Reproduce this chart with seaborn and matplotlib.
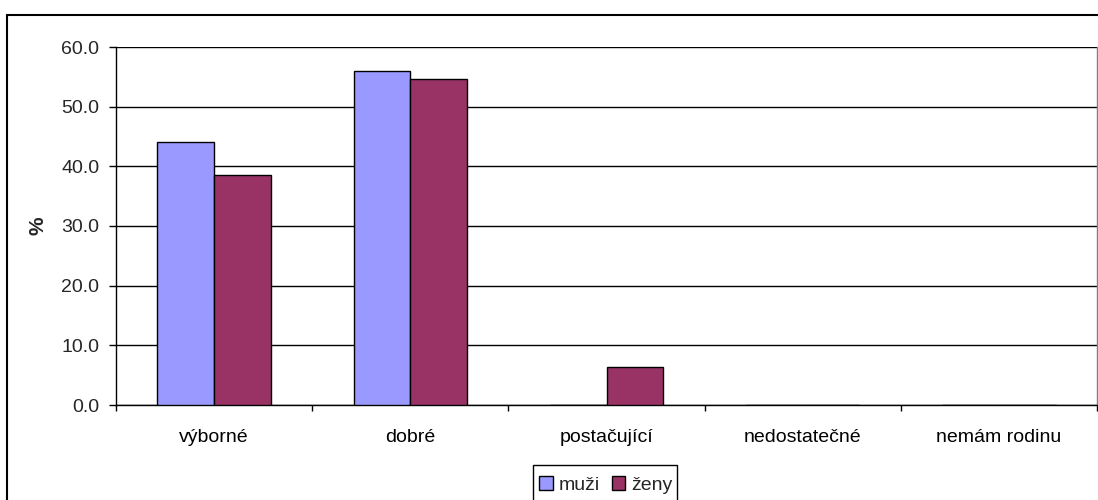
import matplotlib
matplotlib.use("Agg")
import matplotlib.pyplot as plt
from matplotlib.patches import Rectangle
from matplotlib.ticker import FixedLocator, FormatStrFormatter
import pandas as pd
import seaborn as sns

categories = ["výborné", "dobré", "postačující", "nedostatečné", "nemám rodinu"]
muzi = [44.0, 55.9, 0.0, 0.0, 0.0]
zeny = [38.6, 54.7, 6.4, 0.0, 0.0]
series_names = ["muži", "ženy"]
colors = ["#9999FF", "#993366"]

df = pd.DataFrame({
    "kategorie": categories * 2,
    "pohlaví": [series_names[0]] * len(categories) + [series_names[1]] * len(categories),
    "hodnota": muzi + zeny,
})

sns.set_style("white")
plt.rcParams["font.family"] = ["Liberation Sans", "DejaVu Sans"]

W, H = 1098, 500
FS = 14
fig = plt.figure(figsize=(W / 100, H / 100), dpi=100)
ax = fig.add_axes([116 / W, 1 - 405 / H, (1097 - 116) / W, (405 - 47) / H])

sns.barplot(data=df, x="kategorie", y="hodnota", hue="pohlaví",
            palette=colors, width=0.578, edgecolor="black", linewidth=1.0,
            saturation=1, legend=False, ax=ax, zorder=3)

ax.set_ylim(0, 60)
ax.set_xlim(-0.5, len(categories) - 0.5)
ax.set_yticks(range(0, 61, 10))
ax.yaxis.set_major_formatter(FormatStrFormatter("%.1f"))
ax.yaxis.grid(True, color="black", linewidth=1.0, zorder=0)
ax.set_axisbelow(True)

# category boundary ticks below the axis, labels centered without ticks
ax.xaxis.set_minor_locator(FixedLocator([i - 0.5 for i in range(len(categories) + 1)]))
ax.tick_params(axis="x", which="major", length=0, pad=17, labelsize=FS, colors="black")
ax.tick_params(axis="x", which="minor", length=4.5, width=1, color="black", direction="out", bottom=True)
ax.tick_params(axis="y", which="major", length=5, width=1, color="black", direction="out",
               pad=7, labelsize=FS, left=True)

ax.set_xlabel("")
ax.set_ylabel("%", fontsize=15, fontweight="bold")
ax.yaxis.set_label_coords(-(116 - 47) / (1097 - 116), 0.5)

for side in ["left", "bottom"]:
    ax.spines[side].set_color("black")
    ax.spines[side].set_linewidth(1.0)
ax.spines["top"].set_visible(False)
ax.spines["right"].set_color("#808080")
ax.spines["right"].set_linewidth(1.0)

# legend entries below the plot, with a taller box around them
handles = [Rectangle((0, 0), 1, 1, facecolor=c, edgecolor="black", linewidth=1.0) for c in colors]
leg = fig.legend(handles, series_names, loc="center",
                 bbox_to_anchor=(606 / W, 1 - 485 / H), ncol=2, frameon=False,
                 fontsize=FS, handlelength=0.7, handleheight=0.7, handletextpad=0.3,
                 columnspacing=0.6, borderpad=0, borderaxespad=0)
fig.patches.append(Rectangle((533 / W, -0.05), (677 - 533) / W, (1 - 465 / H) + 0.05,
                             transform=fig.transFigure, fill=False,
                             edgecolor="black", linewidth=1.0, zorder=1))

# outer chart frame
fig.patches.append(Rectangle((7 / W, -0.1), 1.2, 1 - 15 / H + 0.1,
                             transform=fig.transFigure, fill=False,
                             edgecolor="black", linewidth=1.5, zorder=0))

fig.savefig("out.png", dpi=100, facecolor="white")
